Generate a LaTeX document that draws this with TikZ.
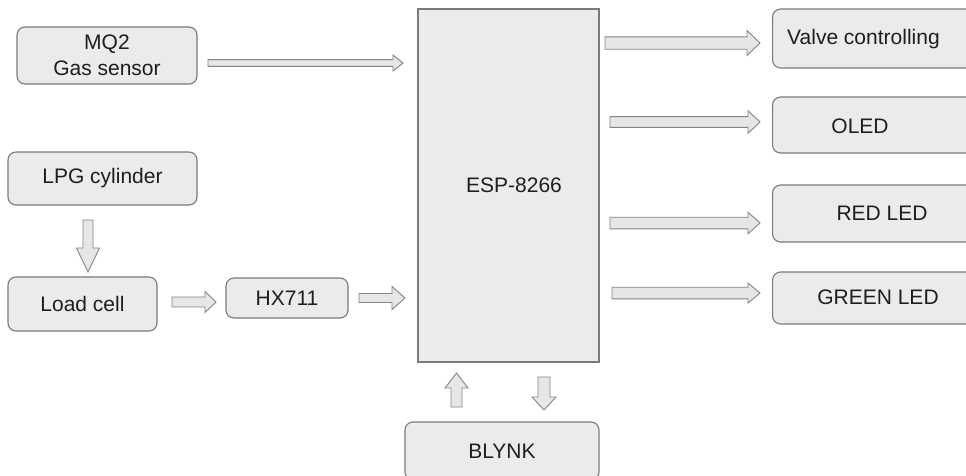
\documentclass[tikz,border=0pt]{standalone}
\usepackage{fontspec}
\setmainfont{Liberation Sans}
\usetikzlibrary{calc}
\definecolor{boxfill}{HTML}{EBEBEB}
\definecolor{boxline}{HTML}{7A7A7A}
\definecolor{arrfill}{HTML}{E6E6E6}
\definecolor{arrline}{HTML}{858585}
\definecolor{txtcol}{HTML}{1E1E1E}
\tikzset{
  rbox/.style={draw=boxline, fill=boxfill, line width=1.1pt, rounded corners=8pt, inner sep=0pt, text=txtcol, align=center},
  sbox/.style={draw=boxline, fill=boxfill, line width=1.1pt, inner sep=0pt},
  txt/.style={text=txtcol, inner sep=0pt, align=center},
  blk/.style={draw=arrline, fill=arrfill, line width=0.9pt, line join=miter}
}
% rightward block arrow: start, end, shaft half, head half, head length
\newcommand{\rblk}[5]{\draw[blk] let \p1=(#1), \p2=(#2) in (\x1,\y1+#3) -- (\x2-#5,\y1+#3) -- (\x2-#5,\y1+#4) -- (\x2,\y1) -- (\x2-#5,\y1-#4) -- (\x2-#5,\y1-#3) -- (\x1,\y1-#3) -- cycle;}
% downward block arrow
\newcommand{\dblk}[5]{\draw[blk] let \p1=(#1), \p2=(#2) in (\x1-#3,\y1) -- (\x1-#3,\y2+#5) -- (\x1-#4,\y2+#5) -- (\x1,\y2) -- (\x1+#4,\y2+#5) -- (\x1+#3,\y2+#5) -- (\x1+#3,\y1) -- cycle;}
% upward block arrow
\newcommand{\ublk}[5]{\draw[blk] let \p1=(#1), \p2=(#2) in (\x1-#3,\y1) -- (\x1-#3,\y2-#5) -- (\x1-#4,\y2-#5) -- (\x1,\y2) -- (\x1+#4,\y2-#5) -- (\x1+#3,\y2-#5) -- (\x1+#3,\y1) -- cycle;}
\begin{document}
\begin{tikzpicture}[x=1pt,y=-1pt, font=\fontsize{21}{25.5}\selectfont]
\useasboundingbox (0,0) rectangle (966,475);
\clip (0,0) rectangle (966,475);
\fill[white] (0,0) rectangle (966,475);

% left side
\node[rbox, minimum width=180pt, minimum height=57pt] (mq2) at (107,55.5) {MQ2\\Gas sensor};
\node[rbox, minimum width=189pt, minimum height=53pt] (lpg) at (102.5,178.5) {LPG cylinder};
\node[rbox, minimum width=149pt, minimum height=54pt] (load) at (82.5,304) {Load cell};
\node[rbox, minimum width=122pt, minimum height=40pt] (hx) at (287,298) {HX711};

% controller
\node[sbox, minimum width=181pt, minimum height=353pt] (esp) at (508.5,185.5) {};
\node[txt] (espt) at (514,185) {ESP-8266};

% right side outputs
\node[rbox, minimum width=230pt, minimum height=59pt, anchor=west] (valve) at (772,38.5) {};
\node[txt, anchor=west] (valvet) at (787,39) {Valve controlling};
\node[rbox, minimum width=230pt, minimum height=56pt, anchor=west] (oled) at (772,125) {};
\node[txt] (oledt) at (860,126) {OLED};
\node[rbox, minimum width=230pt, minimum height=57pt, anchor=west] (red) at (772,213.5) {};
\node[txt] (redt) at (882,213) {RED LED};
\node[rbox, minimum width=230pt, minimum height=52pt, anchor=west] (green) at (772,298) {};
\node[txt] (greent) at (878,297) {GREEN LED};

% cloud
\node[rbox, minimum width=194pt, minimum height=58pt] (blynk) at (502,451) {BLYNK};

% arrow end points
\coordinate (a1s) at (208,63);  \coordinate (a1e) at (403,63);
\coordinate (a2s) at (88,220);  \coordinate (a2e) at (88,272);
\coordinate (a3s) at (172,302); \coordinate (a3e) at (216,302);
\coordinate (a4s) at (359,298); \coordinate (a4e) at (405,298);
\coordinate (o1s) at (605,43);  \coordinate (o1e) at (760,43);
\coordinate (o2s) at (610,122); \coordinate (o2e) at (760,122);
\coordinate (o3s) at (610,223); \coordinate (o3e) at (760,223);
\coordinate (o4s) at (612,293); \coordinate (o4e) at (760,293);
\coordinate (b1s) at (456.5,407); \coordinate (b1e) at (456.5,373);
\coordinate (b2s) at (544,377); \coordinate (b2e) at (544,410);

\rblk{a1s}{a1e}{3.4pt}{8pt}{10pt}
\dblk{a2s}{a2e}{5pt}{11.5pt}{24pt}
\rblk{a3s}{a3e}{5pt}{10.5pt}{11pt}
\rblk{a4s}{a4e}{4.5pt}{11.5pt}{13pt}
\rblk{o1s}{o1e}{6.2pt}{12.5pt}{13pt}
\rblk{o2s}{o2e}{5.4pt}{11.3pt}{12pt}
\rblk{o3s}{o3e}{5.8pt}{10.8pt}{12pt}
\rblk{o4s}{o4e}{5.8pt}{10pt}{12pt}
\ublk{b1s}{b1e}{5.5pt}{11.5pt}{15pt}
\dblk{b2s}{b2e}{6pt}{12pt}{13pt}
\end{tikzpicture}
\end{document}
